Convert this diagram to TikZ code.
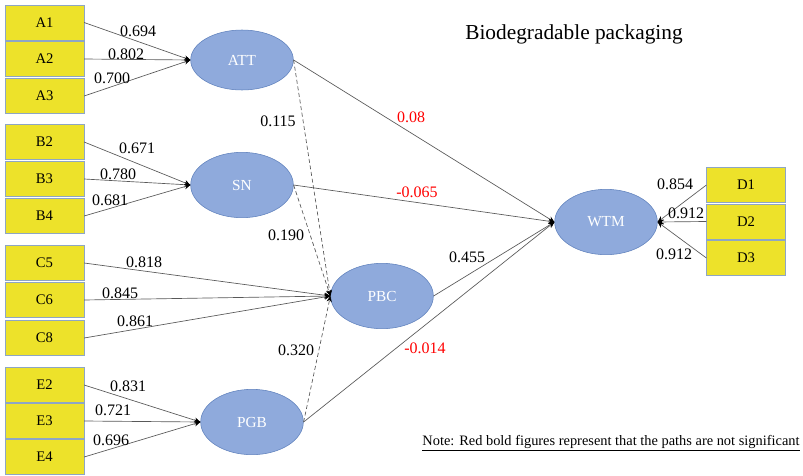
\documentclass[tikz,border=0pt]{standalone}
\usepackage{fontspec}
\setmainfont{Liberation Serif}
\usetikzlibrary{arrows.meta,shapes.geometric}
\definecolor{indfill}{HTML}{EDE22A}
\definecolor{inddraw}{HTML}{8EA6C4}
\definecolor{latfill}{HTML}{8FAADC}
\definecolor{latdraw}{HTML}{5E80BC}
\definecolor{nsred}{HTML}{FF0000}
\tikzset{
  ind/.style={draw=inddraw, fill=indfill, minimum width=59pt, minimum height=26pt,
    inner sep=0pt, font=\fontsize{11}{13}\selectfont},
  lat/.style={ellipse, draw=latdraw, fill=latfill, text=white, minimum width=77pt,
    minimum height=49pt, inner sep=0pt, font=\fontsize{11.5}{13}\selectfont},
  arr/.style={draw=black!65, line width=0.5pt, -{Stealth[length=4.5pt,width=4pt,black]}},
  darr/.style={arr, densely dashed},
  lbl/.style={font=\fontsize{12}{14}\selectfont, inner sep=0pt},
  nslbl/.style={lbl, text=nsred}
}
\begin{document}
\begin{tikzpicture}[x=0.75pt, y=-0.75pt]
  \useasboundingbox[fill=white] (0,0) rectangle (803,475);
  % indicator boxes
  \node[ind] (A1) at (44.5,22.5) {A1};
  \node[ind] (A2) at (44.5,59) {A2};
  \node[ind] (A3) at (44.5,96) {A3};
  \node[ind] (B2) at (44.5,142) {B2};
  \node[ind] (B3) at (44.5,179) {B3};
  \node[ind] (B4) at (44.5,216) {B4};
  \node[ind] (C5) at (44.5,263) {C5};
  \node[ind] (C6) at (44.5,300) {C6};
  \node[ind] (C8) at (44.5,338) {C8};
  \node[ind] (E2) at (44.5,385) {E2};
  \node[ind] (E3) at (44.5,421) {E3};
  \node[ind] (E4) at (44.5,457) {E4};
  \node[ind] (D1) at (746,185) {D1};
  \node[ind] (D2) at (746,221.5) {D2};
  \node[ind] (D3) at (746,258) {D3};
  % latent variables
  \node[lat, minimum height=45pt] (ATT) at (242,60) {ATT};
  \node[lat] (SN) at (242,185) {SN};
  \node[lat] (PBC) at (382,296) {PBC};
  \node[lat] (PGB) at (252,422) {PGB};
  \node[lat] (WTM) at (606,222) {WTM};
  % measurement paths
  \draw[arr] (A1.east) -- (ATT.west);
  \draw[arr] (A2.east) -- (ATT.west);
  \draw[arr] (A3.east) -- (ATT.west);
  \draw[arr] (B2.east) -- (SN.west);
  \draw[arr] (B3.east) -- (SN.west);
  \draw[arr] (B4.east) -- (SN.west);
  \draw[arr] (C5.east) -- (PBC.west);
  \draw[arr] (C6.east) -- (PBC.west);
  \draw[arr] (C8.east) -- (PBC.west);
  \draw[arr] (E2.east) -- (PGB.west);
  \draw[arr] (E3.east) -- (PGB.west);
  \draw[arr] (E4.east) -- (PGB.west);
  \draw[arr] (D1.west) -- (WTM.east);
  \draw[arr] (D2.west) -- (WTM.east);
  \draw[arr] (D3.west) -- (WTM.east);
  % structural paths
  \draw[darr] (ATT.east) -- (PBC.west);
  \draw[darr] (SN.east) -- (PBC.west);
  \draw[darr] (PGB.east) -- (PBC.west);
  \draw[arr] (ATT.east) -- (WTM.west);
  \draw[arr] (SN.east) -- (WTM.west);
  \draw[arr] (PBC.east) -- (WTM.west);
  \draw[arr] (PGB.east) -- (WTM.west);
  % loadings
  \node[lbl] (lA1) at (138,31) {0.694};
  \node[lbl] (lA2) at (126,54) {0.802};
  \node[lbl] (lA3) at (112,78) {0.700};
  \node[lbl] (lB2) at (137,148) {0.671};
  \node[lbl] (lB3) at (118,174) {0.780};
  \node[lbl] (lB4) at (110,200) {0.681};
  \node[lbl] (lC5) at (144,262) {0.818};
  \node[lbl] (lC6) at (120,293) {0.845};
  \node[lbl] (lC8) at (135,321) {0.861};
  \node[lbl] (lE2) at (128,386) {0.831};
  \node[lbl] (lE3) at (113,410) {0.721};
  \node[lbl] (lE4) at (111,440) {0.696};
  \node[lbl] (lD1) at (675,184) {0.854};
  \node[lbl] (lD2) at (686,213) {0.912};
  \node[lbl] (lD3) at (674,254) {0.912};
  % path coefficients
  \node[lbl] (lAP) at (278,121) {0.115};
  \node[lbl] (lSP) at (286,235) {0.190};
  \node[lbl] (lGP) at (296,350) {0.320};
  \node[nslbl] (lAW) at (411,117) {0.08};
  \node[nslbl] (lSW) at (417,192) {-0.065};
  \node[lbl] (lPW) at (467,257) {0.455};
  \node[nslbl] (lGW) at (425,348) {-0.014};
  % title and note
  \node[font=\fontsize{16}{19}\selectfont, inner sep=0pt] (title) at (574,34) {Biodegradable packaging};
  \node[font=\fontsize{10.8}{13}\selectfont, inner sep=0pt] (note) at (611,443)
    {\underline{Note: Red bold figures represent that the paths are not significant}};
\end{tikzpicture}
\end{document}
